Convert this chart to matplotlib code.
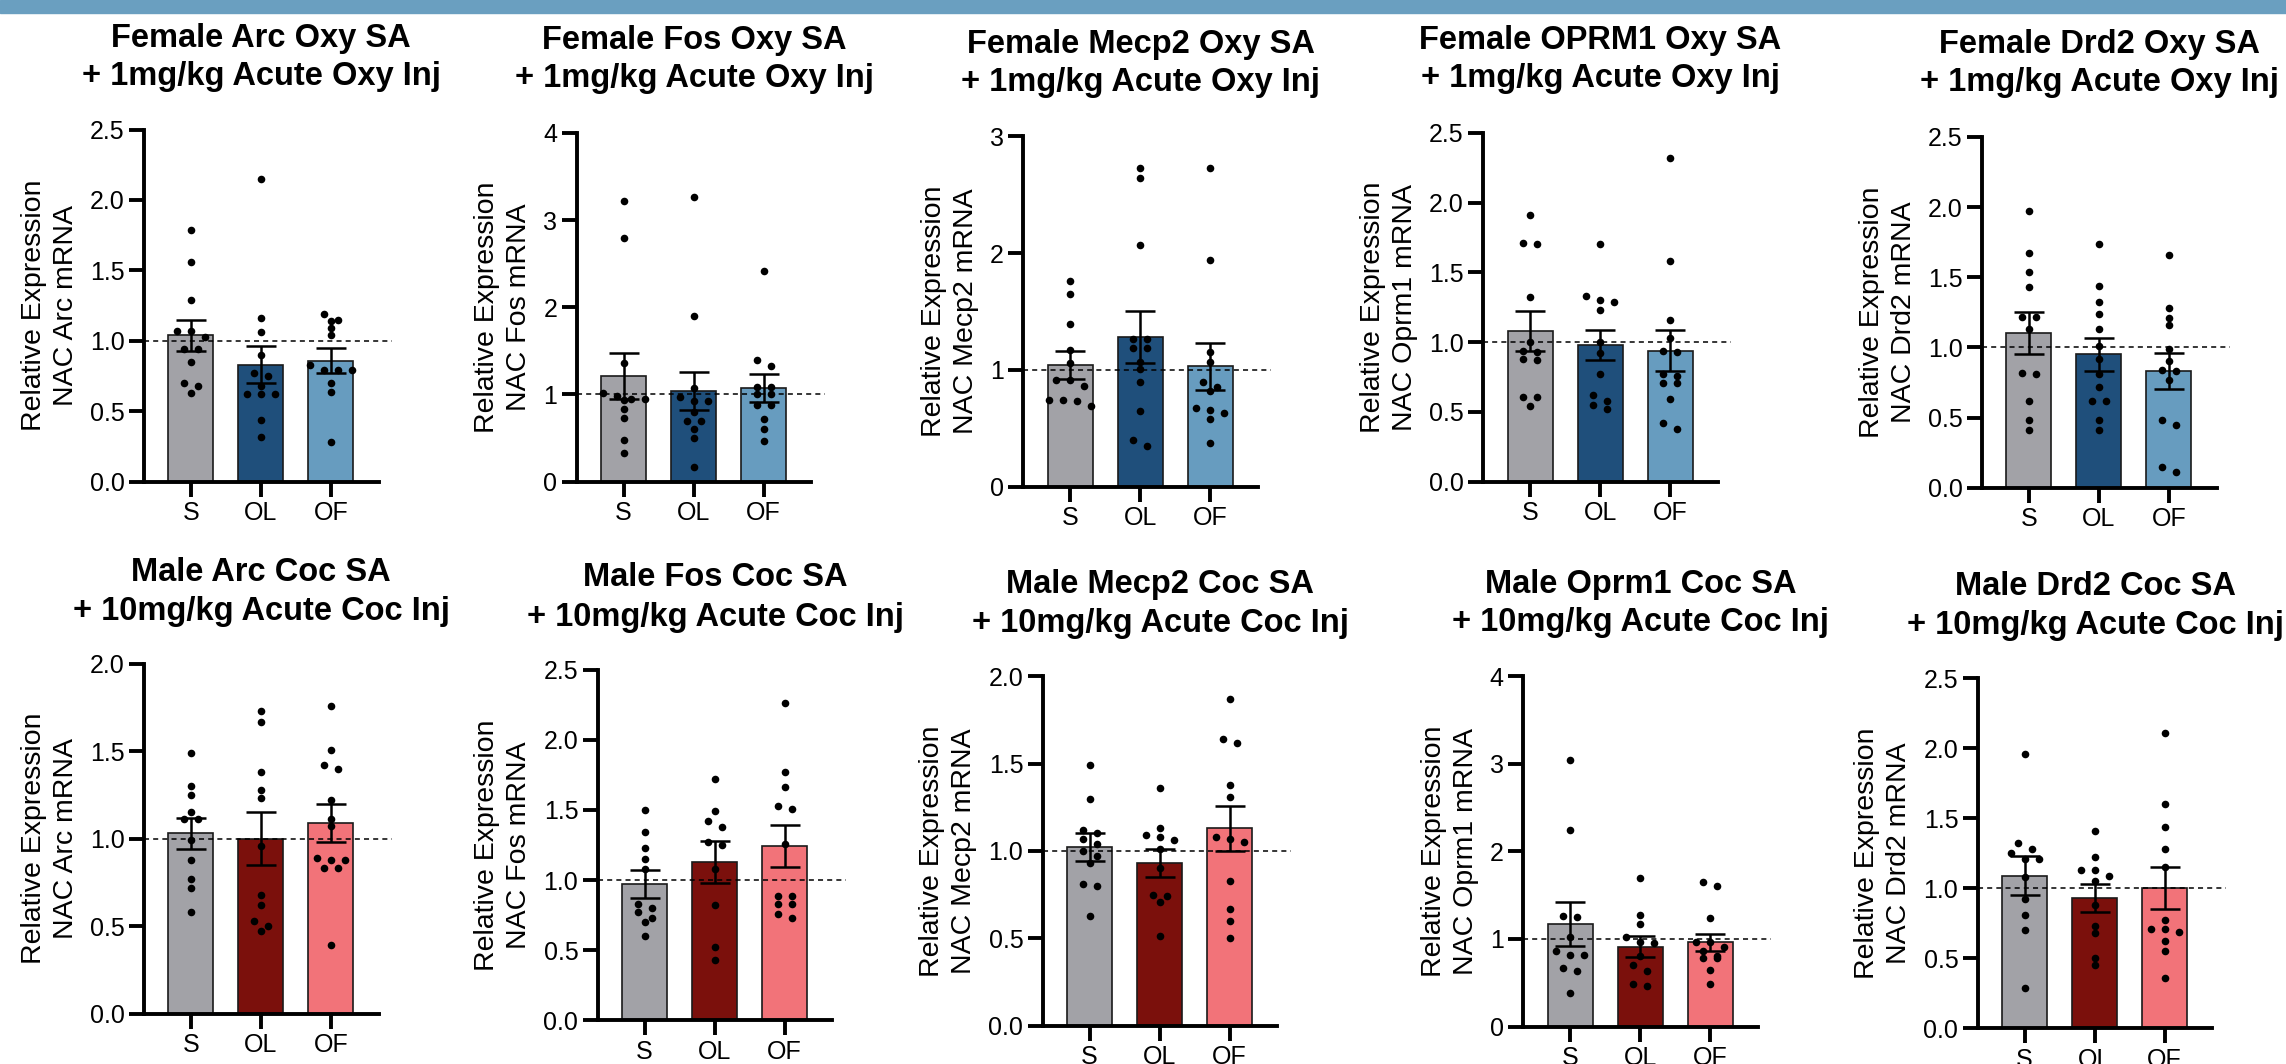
import matplotlib
matplotlib.use("Agg")
import matplotlib.pyplot as plt
from matplotlib.patches import Rectangle
import numpy as np

plt.rcParams['font.family'] = ['Liberation Sans', 'DejaVu Sans']

W, H, DPI = 2286, 1064, 100

groups = ["S", "OL", "OF"]
female_colors = ["#A2A2A7", "#1F4F7B", "#679CBF"]
male_colors = ["#A2A2A7", "#7B100C", "#F27379"]

female_titles = ["Female Arc Oxy SA", "Female Fos Oxy SA", "Female Mecp2 Oxy SA",
                 "Female OPRM1 Oxy SA", "Female Drd2 Oxy SA"]
female_sub = "+ 1mg/kg Acute Oxy Inj"
male_titles = ["Male Arc Coc SA", "Male Fos Coc SA", "Male Mecp2 Coc SA",
               "Male Oprm1 Coc SA", "Male Drd2 Coc SA"]
male_sub = "+ 10mg/kg Acute Coc Inj"
genes = ["Arc", "Fos", "Mecp2", "Oprm1", "Drd2"]

# ---- Female (Oxy) ----
f_arc_means = [1.04, 0.83, 0.86]
f_arc_sems = [0.11, 0.13, 0.09]
f_arc_pts = [[1.79, 1.56, 1.29, 1.07, 1.07, 1.03, 0.94, 0.94, 0.85, 0.70, 0.68, 0.63],
             [2.15, 1.16, 1.06, 0.90, 0.77, 0.75, 0.68, 0.62, 0.62, 0.62, 0.44, 0.32],
             [1.19, 1.15, 1.14, 1.09, 1.04, 0.83, 0.79, 0.79, 0.79, 0.70, 0.64, 0.28]]

f_fos_means = [1.21, 1.04, 1.07]
f_fos_sems = [0.26, 0.22, 0.16]
f_fos_pts = [[3.22, 2.79, 1.36, 1.02, 0.98, 0.95, 0.95, 0.94, 0.83, 0.73, 0.48, 0.33],
             [3.26, 1.90, 1.07, 0.97, 0.92, 0.92, 0.80, 0.70, 0.70, 0.60, 0.50, 0.17],
             [2.42, 1.40, 1.33, 1.09, 1.09, 1.01, 1.01, 0.88, 0.88, 0.72, 0.60, 0.47]]

f_mecp2_means = [1.04, 1.28, 1.03]
f_mecp2_sems = [0.12, 0.22, 0.20]
f_mecp2_pts = [[1.76, 1.65, 1.39, 1.17, 1.06, 0.91, 0.91, 0.86, 0.74, 0.74, 0.73, 0.69],
               [2.73, 2.64, 2.07, 1.26, 1.26, 1.19, 1.19, 1.07, 1.01, 0.90, 0.65, 0.40, 0.35],
               [2.73, 1.94, 1.15, 1.07, 0.90, 0.85, 0.82, 0.67, 0.66, 0.63, 0.58, 0.37]]

f_oprm1_means = [1.08, 0.98, 0.94]
f_oprm1_sems = [0.14, 0.11, 0.15]
f_oprm1_pts = [[1.91, 1.71, 1.70, 1.32, 1.00, 0.94, 0.93, 0.88, 0.87, 0.61, 0.61, 0.54],
               [1.70, 1.33, 1.30, 1.29, 1.23, 1.00, 0.92, 0.77, 0.62, 0.58, 0.55, 0.52],
               [2.32, 1.58, 1.16, 1.03, 0.94, 0.93, 0.77, 0.76, 0.71, 0.71, 0.59, 0.42, 0.38]]

f_drd2_means = [1.10, 0.95, 0.83]
f_drd2_sems = [0.15, 0.12, 0.13]
f_drd2_pts = [[1.97, 1.67, 1.54, 1.43, 1.22, 1.22, 1.13, 0.82, 0.81, 0.62, 0.48, 0.41],
              [1.74, 1.44, 1.32, 1.24, 1.13, 1.01, 0.92, 0.81, 0.72, 0.62, 0.62, 0.48, 0.41],
              [1.66, 1.28, 1.21, 1.16, 0.99, 0.90, 0.84, 0.83, 0.77, 0.48, 0.45, 0.15, 0.11]]

# ---- Male (Coc) ----
m_arc_means = [1.03, 1.00, 1.09]
m_arc_sems = [0.09, 0.15, 0.11]
m_arc_pts = [[1.49, 1.30, 1.25, 1.15, 1.11, 1.11, 0.99, 0.88, 0.77, 0.72, 0.58],
             [1.73, 1.67, 1.38, 1.28, 1.23, 0.96, 0.68, 0.62, 0.53, 0.50, 0.47],
             [1.76, 1.51, 1.42, 1.40, 1.22, 1.11, 1.07, 0.89, 0.88, 0.88, 0.83, 0.83, 0.39]]

m_fos_means = [0.97, 1.13, 1.24]
m_fos_sems = [0.10, 0.15, 0.15]
m_fos_pts = [[1.50, 1.34, 1.23, 1.15, 1.08, 0.83, 0.80, 0.77, 0.73, 0.70, 0.60],
             [1.72, 1.49, 1.42, 1.38, 1.27, 1.25, 1.08, 0.82, 0.52, 0.43],
             [2.26, 1.77, 1.66, 1.53, 1.51, 1.26, 0.89, 0.89, 0.83, 0.83, 0.76, 0.73]]

m_mecp2_means = [1.02, 0.93, 1.13]
m_mecp2_sems = [0.08, 0.08, 0.13]
m_mecp2_pts = [[1.49, 1.30, 1.12, 1.10, 1.07, 1.04, 1.00, 0.97, 0.93, 0.81, 0.80, 0.63],
               [1.36, 1.13, 1.09, 1.08, 1.06, 1.01, 0.90, 0.75, 0.74, 0.71, 0.51],
               [1.87, 1.64, 1.62, 1.38, 1.31, 1.08, 1.07, 1.05, 0.83, 0.67, 0.60, 0.50]]

m_oprm1_means = [1.17, 0.91, 0.96]
m_oprm1_sems = [0.25, 0.12, 0.10]
m_oprm1_pts = [[3.05, 2.24, 1.26, 1.25, 1.02, 0.86, 0.82, 0.82, 0.67, 0.63, 0.38],
               [1.70, 1.27, 1.17, 1.02, 0.97, 0.95, 0.81, 0.70, 0.63, 0.49, 0.46],
               [1.65, 1.60, 1.24, 0.97, 0.97, 0.91, 0.86, 0.81, 0.78, 0.78, 0.65, 0.49]]

m_drd2_means = [1.09, 0.93, 1.00]
m_drd2_sems = [0.14, 0.10, 0.15]
m_drd2_pts = [[1.96, 1.32, 1.28, 1.25, 1.21, 1.21, 1.08, 0.92, 0.81, 0.70, 0.29],
              [1.41, 1.22, 1.13, 1.13, 1.09, 1.05, 0.88, 0.73, 0.68, 0.50, 0.45],
              [2.11, 1.60, 1.44, 1.28, 1.15, 0.77, 0.71, 0.71, 0.69, 0.62, 0.55, 0.36]]

female_ymax = [2.5, 4, 3, 2.5, 2.5]
female_ystep = [0.5, 1, 1, 0.5, 0.5]
male_ymax = [2.0, 2.5, 2.0, 4, 2.5]
male_ystep = [0.5, 0.5, 0.5, 1, 0.5]

female_data = [(f_arc_means, f_arc_sems, f_arc_pts), (f_fos_means, f_fos_sems, f_fos_pts),
               (f_mecp2_means, f_mecp2_sems, f_mecp2_pts), (f_oprm1_means, f_oprm1_sems, f_oprm1_pts),
               (f_drd2_means, f_drd2_sems, f_drd2_pts)]
male_data = [(m_arc_means, m_arc_sems, m_arc_pts), (m_fos_means, m_fos_sems, m_fos_pts),
             (m_mecp2_means, m_mecp2_sems, m_mecp2_pts), (m_oprm1_means, m_oprm1_sems, m_oprm1_pts),
             (m_drd2_means, m_drd2_sems, m_drd2_pts)]

# ---- layout (pixels): axes left, top (ymax), bottom (y=0), title baselines ----
AW = 234.5
XL = -0.67
XPPU = 70.0
top_layout = [(144, 129.5, 481.7, 47.3, 84.5), (576.7, 132.8, 481.7, 49, 87.2),
              (1023.3, 136.2, 486.7, 53.4, 91.3), (1483.3, 132.8, 481.7, 49, 87.2),
              (1982, 136.9, 487.7, 53.4, 91.3)]
bot_layout = [(144, 663.8, 1013.6, 581.1, 620.2), (597.7, 669.6, 1020.4, 586.2, 626),
              (1042.7, 676.4, 1025.5, 593, 632.2), (1523.3, 676.4, 1026.5, 593, 631.5),
              (1977.7, 678.1, 1028.2, 594.7, 633.9)]


def swarm_offsets(vals, ppu, spacing_px=14.0, thr_px=6.5):
    vals = np.asarray(vals, dtype=float)
    order = np.argsort(-vals, kind='stable')
    offs = np.zeros(len(vals))
    rows, cur = [], []
    for idx in order:
        if cur and (vals[cur[0]] - vals[idx]) * ppu > thr_px:
            rows.append(cur)
            cur = []
        cur.append(idx)
    if cur:
        rows.append(cur)
    for row in rows:
        n = len(row)
        for i, idx in enumerate(row):
            offs[idx] = (i - (n - 1) / 2) * spacing_px / XPPU
    return offs


fig = plt.figure(figsize=(W / DPI, H / DPI), dpi=DPI)
fig.add_artist(Rectangle((0, 1 - 12.8 / H), 1, 12.8 / H, transform=fig.transFigure,
                         color="#6A9FC0", zorder=0))


def draw_panel(lay, title, sub, gene, data, colors, ymax, ystep):
    L, T, B, tb1, tb2 = lay
    ax = fig.add_axes([L / W, 1 - B / H, AW / W, (B - T) / H])
    means, sems, pts = data
    x = np.arange(len(groups))
    ax.bar(x, means, width=0.643, color=colors, edgecolor="#1a1a1a", linewidth=1.2, zorder=2)
    ax.plot([XL, 2.87], [1, 1], color="black", lw=1.1, ls=(0, (3.3, 2.7)),
            clip_on=False, zorder=3)
    ppu = (B - T) / ymax
    for i, vals in enumerate(pts):
        offs = swarm_offsets(vals, ppu)
        ax.scatter(i + offs, vals, s=30, color="black", linewidths=0, zorder=4, clip_on=False)
    ax.errorbar(x, means, yerr=sems, fmt="none", ecolor="black", elinewidth=1.8,
                capsize=10.5, capthick=1.8, zorder=5)
    ax.set_xlim(XL, XL + AW / XPPU)
    ax.set_ylim(0, ymax)
    ticks = np.arange(0, ymax + 1e-9, ystep)
    ax.set_yticks(ticks)
    if ystep < 1:
        ax.set_yticklabels([f"{t:.1f}" for t in ticks])
    else:
        ax.set_yticklabels([f"{int(t)}" for t in ticks])
    ax.set_xticks(x)
    ax.set_xticklabels(groups)
    for s in ["top", "right"]:
        ax.spines[s].set_visible(False)
    for s in ["left", "bottom"]:
        ax.spines[s].set_linewidth(2.8)
    ax.tick_params(axis="both", length=10.5, width=2.8, labelsize=18, pad=3.5, colors="black")
    ax.set_ylabel(f"Relative Expression\nNAC {gene} mRNA", fontsize=20.5, labelpad=8,
                  linespacing=1.3)
    ax.patch.set_alpha(0)
    cx = (L + AW / 2) / W
    fig.text(cx, 1 - tb1 / H, title, ha="center", va="baseline",
             fontsize=23.5, fontweight="bold")
    fig.text(cx, 1 - tb2 / H, sub, ha="center", va="baseline",
             fontsize=23.5, fontweight="bold")


for k in range(5):
    draw_panel(top_layout[k], female_titles[k], female_sub, genes[k], female_data[k],
               female_colors, female_ymax[k], female_ystep[k])
    draw_panel(bot_layout[k], male_titles[k], male_sub, genes[k], male_data[k],
               male_colors, male_ymax[k], male_ystep[k])

fig.savefig("out.png", dpi=DPI)
